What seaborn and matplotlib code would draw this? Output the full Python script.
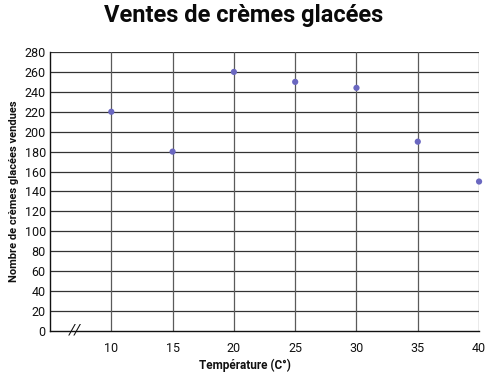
import matplotlib
matplotlib.use("Agg")
import matplotlib.pyplot as plt
import seaborn as sns
import pandas as pd

# Data
temperatures = [10, 15, 20, 25, 30, 35, 40]
ventes = [220, 180, 260, 250, 244, 190, 150]
x_ticks = [10, 15, 20, 25, 30, 35, 40]
y_ticks = list(range(0, 281, 20))

df = pd.DataFrame({"Température": temperatures, "Ventes": ventes})

sns.set_style("white")
plt.rcParams["font.family"] = ["Roboto", "DejaVu Sans"]

fig = plt.figure(figsize=(4.87, 3.74), dpi=100)
ax = fig.add_axes([0.1027, 0.115, 0.881, 0.746])

sns.scatterplot(data=df, x="Température", y="Ventes", ax=ax,
                color="#6a67c0", s=20, edgecolor="none", zorder=5, clip_on=False)

ax.set_xlim(5, 40)
ax.set_ylim(0, 280)
ax.set_xticks(x_ticks)
ax.set_yticks(y_ticks)

# grid lines
for y in y_ticks[1:]:
    ax.axhline(y, color="#333333", lw=0.9, zorder=1)
for x in x_ticks:
    ax.axvline(x, color="#5a5a5a", lw=0.9, zorder=1)

for side in ["top", "right"]:
    ax.spines[side].set_visible(False)
for side in ["left", "bottom"]:
    ax.spines[side].set_color("#111111")
    ax.spines[side].set_linewidth(1.0)

ax.tick_params(axis="both", length=0, labelsize=9, colors="#111111", pad=3)
ax.tick_params(axis="x", pad=8)

ax.set_xlabel("Température (C°)", fontsize=8.5, fontweight="bold", labelpad=5, color="#111111")
ax.xaxis.set_label_coords(0.455, -0.1)
ax.set_ylabel("Nombre de crèmes glacées vendues", fontsize=8, fontweight="bold", labelpad=4,
              color="#111111")
fig.suptitle("Ventes de crèmes glacées", fontsize=17, fontweight="bold", y=0.988, color="#0a0a0a")

# axis break mark
ax.text(7.0, 0, "//", fontsize=11, ha="center", va="center", color="#111111",
        style="italic", clip_on=False)

fig.savefig("out.png", dpi=100)
